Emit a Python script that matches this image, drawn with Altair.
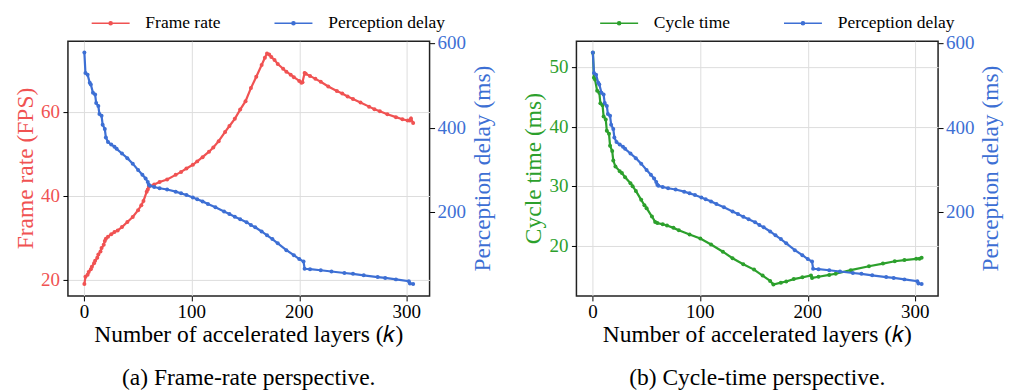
import altair as alt
import pandas as pd

# ---------------- data ----------------
k_fps = [0, 1, 3, 4, 6, 7, 9, 10, 12, 13, 15, 16, 18, 19, 20, 22, 25, 28, 31, 35,
         40, 45, 50, 53, 55, 58, 59, 60, 65, 70, 77, 85, 90, 95, 101, 105, 110, 116,
         120, 125, 131, 135, 140, 145, 150, 155, 160, 165, 168, 170, 172, 174, 177,
         180, 185, 188, 192, 195, 200, 202, 203, 205, 206, 210, 215, 220, 227, 235,
         240, 245, 250, 257, 265, 270, 275, 282, 290, 296, 301, 303, 304, 306]
fps = [19.1, 20.8, 21.3, 21.9, 22.6, 23.2, 24.0, 24.6, 25.3, 26.1, 26.8, 27.6, 28.4,
       29.3, 29.8, 30.3, 30.9, 31.4, 31.8, 32.6, 33.8, 35.0, 36.6, 37.8, 38.8, 41.0,
       41.5, 42.2, 42.7, 43.3, 43.9, 45.0, 45.7, 46.5, 47.4, 48.2, 49.2, 50.5, 51.5,
       53.0, 55.2, 56.6, 58.3, 60.5, 62.5, 65.6, 68.3, 71.1, 72.8, 73.8, 73.6, 73.0,
       72.3, 71.3, 70.2, 69.5, 68.8, 68.2, 67.3, 66.9, 67.0, 69.2, 69.0, 68.5, 67.8,
       67.1, 66.0, 64.9, 64.3, 63.6, 63.0, 62.2, 61.2, 60.6, 60.1, 59.4, 58.7, 58.2,
       57.9, 57.9, 58.4, 57.3]

k_delay = [0, 1, 3, 5, 6, 8, 10, 11, 13, 14, 16, 17, 19, 20, 22, 25, 28, 30, 35, 40,
           45, 50, 54, 57, 59, 60, 61, 65, 70, 77, 85, 90, 95, 101, 105, 110, 115, 122,
           130, 135, 140, 145, 151, 155, 159, 165, 170, 175, 180, 188, 195, 200, 204,
           205, 210, 220, 230, 242, 250, 260, 273, 280, 290, 302, 303, 306]
delay = [577, 529, 525, 506, 502, 482, 478, 458, 451, 432, 428, 407, 397, 377, 366,
         360, 355, 350, 339, 328, 315, 300, 289, 280, 272, 265, 263, 260, 257, 254,
         249, 245, 241, 235, 231, 226, 220, 212, 202, 196, 190, 184, 177, 170, 165,
         155, 146, 137, 127, 111, 99, 90, 84, 67, 66, 63.5, 60.5, 57, 55, 51.5, 47.5,
         45.5, 42, 37.6, 32, 31]

k_cycle = [0, 1, 2, 4, 6, 7, 9, 10, 12, 13, 15, 16, 18, 19, 21, 25, 27, 30, 35, 37,
           40, 45, 48, 50, 55, 58, 60, 65, 69, 75, 80, 90, 100, 110, 121, 130, 140,
           150, 158, 165, 168, 175, 180, 187, 195, 203, 204, 210, 220, 226, 240, 257,
           270, 281, 290, 301, 304, 306]
cycle = [52.4, 48.2, 47.9, 46.0, 45.7, 43.9, 43.6, 41.7, 41.2, 39.3, 38.8, 36.8, 35.9,
         34.3, 33.3, 32.5, 32.2, 31.5, 30.5, 30.0, 29.2, 27.7, 26.8, 26.3, 24.9, 24.0,
         23.8, 23.6, 23.4, 23.0, 22.6, 21.9, 21.2, 20.2, 19.0, 17.9, 16.9, 16.0, 15.0,
         14.1, 13.5, 13.8, 14.0, 14.4, 14.7, 15.0, 14.6, 14.8, 15.1, 15.3, 15.9, 16.55,
         17.0, 17.4, 17.6, 17.8, 17.8, 18.0]

x_ticks = [0, 100, 200, 300]
fps_ticks = [20, 40, 60]
cycle_ticks = [20, 30, 40, 50]
delay_ticks = [200, 400, 600]

X_TITLE = "Number of accelerated layers (𝑘)"
DELAY_TITLE = "Perception delay (ms)"

RED = "#F05252"
BLUE = "#3D6FD4"
GREEN = "#2CA02C"
FONT = "Liberation Serif"

df_fps = pd.DataFrame({"k": k_fps, "value": fps, "series": "Frame rate"})
df_cycle = pd.DataFrame({"k": k_cycle, "value": cycle, "series": "Cycle time"})
df_delay = pd.DataFrame({"k": k_delay, "value": delay, "series": "Perception delay"})

W, H = 362, 255
X_DOMAIN = [-15.3, 321.3]
DELAY_DOMAIN = [3, 604]
# legend glyph: a 38px line with a small dot, drawn around a 10px layout box
SYMBOL = "M-3.8,0H3.8M-0.3,0a0.3,0.3 0 1,0 0.6,0a0.3,0.3 0 1,0 -0.6,0"

TICKAX = dict(labels=False, title=None, domain=False, tickColor="black", tickSize=5,
              tickWidth=1, gridColor="#dddddd", gridWidth=1)


def panel(df_main, name, color, ytitle, ydomain, yticks, caption):
    cscale = alt.Scale(domain=[name, "Perception delay"], range=[color, BLUE])
    legend = alt.Legend(orient="none", legendX=34, legendY=-27, direction="horizontal",
                        title=None, labelFont=FONT, labelFontSize=17.5, labelColor="black",
                        symbolType=SYMBOL, symbolSize=100, symbolStrokeWidth=1.6,
                        labelOffset=26, columnPadding=50)
    xs = alt.Scale(domain=X_DOMAIN, nice=False, zero=False)
    xaxis = alt.Axis(values=x_ticks, grid=True, **TICKAX)
    xenc = alt.X("k:Q", scale=xs, axis=xaxis)
    ys_main = alt.Scale(domain=ydomain, nice=False, zero=False)
    ys_delay = alt.Scale(domain=DELAY_DOMAIN, nice=False, zero=False)

    main = alt.Chart(df_main).mark_line(
        strokeWidth=2.2, point=alt.OverlayMarkDef(filled=True, size=16)
    ).encode(
        x=xenc,
        y=alt.Y("value:Q", scale=ys_main,
                axis=alt.Axis(orient="left", values=yticks, grid=True, **TICKAX)),
        color=alt.Color("series:N", scale=cscale, legend=legend),
    )
    dl = alt.Chart(df_delay).mark_line(
        strokeWidth=2.2, point=alt.OverlayMarkDef(filled=True, size=16)
    ).encode(
        x=xenc,
        y=alt.Y("value:Q", scale=ys_delay,
                axis=alt.Axis(orient="right", values=delay_ticks, grid=False, **TICKAX)),
        color=alt.Color("series:N", scale=cscale, legend=legend),
    )
    # tick labels drawn through the same scales
    xlab = alt.Chart(pd.DataFrame({"k": x_ticks})).mark_text(
        font=FONT, fontSize=19, baseline="top", color="black"
    ).encode(x=xenc, y=alt.value(H + 7), text="k:Q")
    ylab = alt.Chart(pd.DataFrame({"value": yticks})).mark_text(
        font=FONT, fontSize=19, align="right", baseline="middle", color=color
    ).encode(x=alt.value(-8), y=alt.Y("value:Q", scale=ys_main, axis=None), text="value:Q")
    dlab = alt.Chart(pd.DataFrame({"value": delay_ticks})).mark_text(
        font=FONT, fontSize=19, align="left", baseline="middle", color=BLUE
    ).encode(x=alt.value(W + 8), y=alt.Y("value:Q", scale=ys_delay, axis=None),
             text="value:Q")
    one = pd.DataFrame({"a": [0]})
    xt = alt.Chart(one).mark_text(text=X_TITLE, font=FONT, fontSize=23.5, color="black",
                                  baseline="middle", align="center"
                                  ).encode(x=alt.value(W / 2), y=alt.value(H + 39))
    yt = alt.Chart(one).mark_text(text=ytitle, font=FONT, fontSize=23.5, color=color,
                                  baseline="middle", align="center", angle=270
                                  ).encode(x=alt.value(-42), y=alt.value(H / 2))
    dt = alt.Chart(one).mark_text(text=DELAY_TITLE, font=FONT, fontSize=23.5, color=BLUE,
                                  baseline="middle", align="center", angle=270
                                  ).encode(x=alt.value(W + 53), y=alt.value(H / 2))
    cap = alt.Chart(one).mark_text(text=caption, font=FONT, fontSize=23.5, color="black",
                                   baseline="middle", align="center"
                                   ).encode(x=alt.value(W / 2), y=alt.value(H + 82))
    return alt.layer(main, dl, xlab, ylab, dlab, xt, yt, dt, cap).resolve_scale(
        y="independent").properties(width=W, height=H)


left = panel(df_fps, "Frame rate", RED, "Frame rate (FPS)", [16.25, 76.75], fps_ticks,
             "(a) Frame-rate perspective.")
right = panel(df_cycle, "Cycle time", GREEN, "Cycle time (ms)", [11.58, 54.34], cycle_ticks,
              "(b) Cycle-time perspective.")

chart = alt.hconcat(left, right, spacing=26).resolve_scale(
    color="independent"
).resolve_legend(color="independent").configure(
    font=FONT,
).configure_view(
    stroke="#222222", strokeWidth=1.5
)

chart.save("out.html", embed_options={"renderer": "svg", "actions": False})
